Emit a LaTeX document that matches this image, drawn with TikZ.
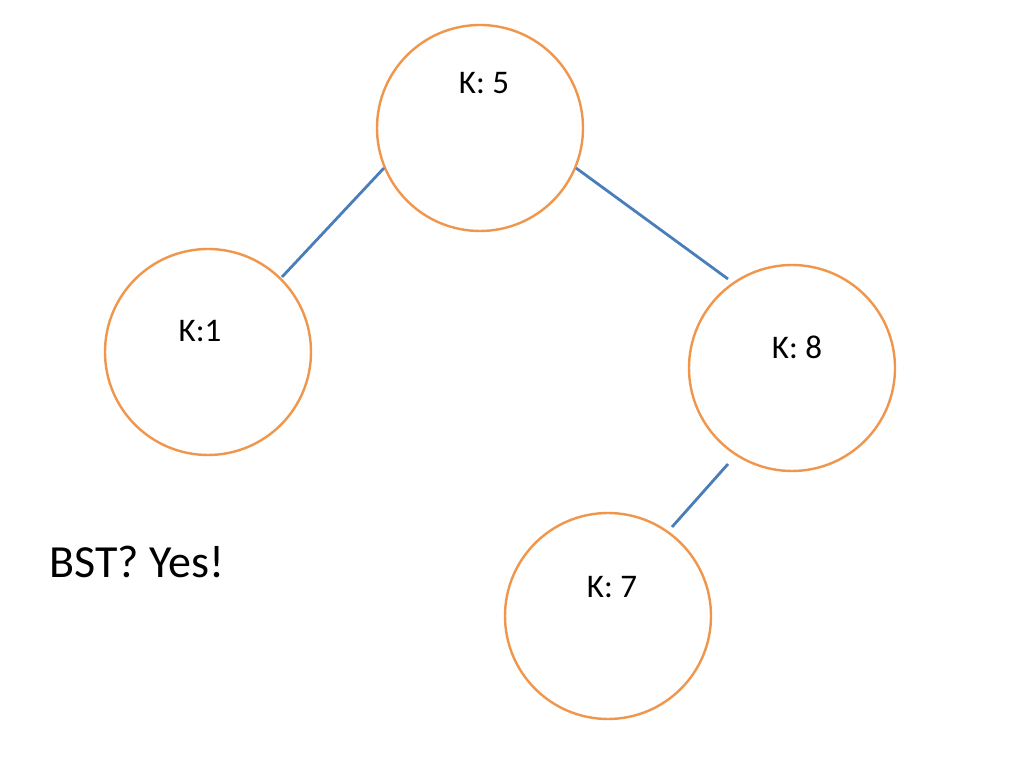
\documentclass[tikz,border=0pt]{standalone}
\usepackage{fontspec}
\setmainfont{Carlito}
\usetikzlibrary{calc}
\definecolor{nodeorange}{HTML}{F0964A}
\definecolor{edgeblue}{HTML}{4A7EBB}
\begin{document}
\begin{tikzpicture}[x=1pt,y=1pt,
  treenode/.style={circle,draw=nodeorange,line width=2.4pt,minimum size=206pt,inner sep=0pt},
  lbl/.style={font=\fontsize{33}{38}\selectfont,inner sep=0pt,anchor=center},
  edge/.style={draw=edgeblue,line width=2.8pt}]
\useasboundingbox[fill=white] (0,0) rectangle (1024,768);
\node[treenode] (n5) at (480,640) {};
\node[treenode] (n1) at (208,416) {};
\node[treenode] (n8) at (792,400) {};
\node[treenode] (n7) at (608,152) {};
\node[lbl] (t5) at (484,685) {K: 5};
\node[lbl] (t1) at (200,437) {K:1};
\node[lbl] (t8) at (797,421) {K: 8};
\node[lbl] (t7) at (612,181) {K: 7};
\node[font=\fontsize{46}{52}\selectfont,inner sep=0pt] (bst) at (137,206) {BST? Yes!};
\draw[edge] ($(n5)+(-96,-40)$) -- ($(n1)+(74,75)$);
\draw[edge] ($(n5)+(96,-40)$) -- ($(n8)+(-64,89)$);
\draw[edge] ($(n8)+(-64,-96)$) -- ($(n7)+(64,89)$);
\end{tikzpicture}
\end{document}
